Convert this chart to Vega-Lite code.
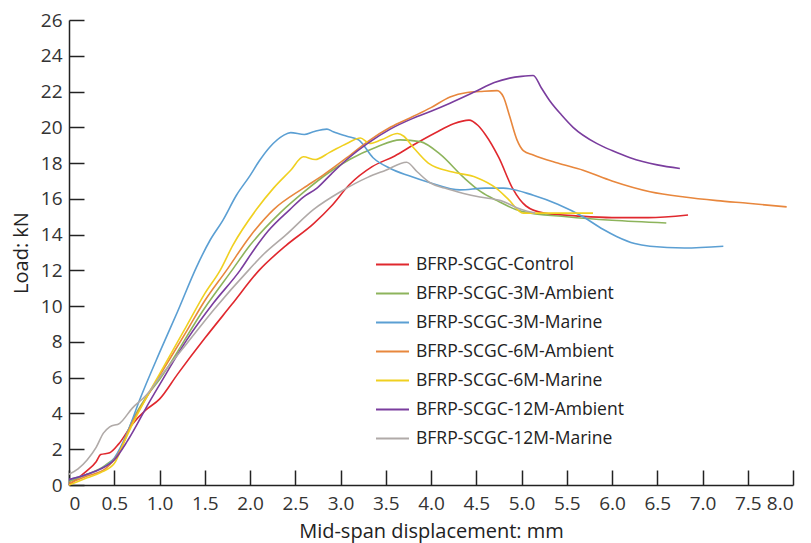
{
  "$schema": "https://vega.github.io/schema/vega-lite/v6.json",
  "width": 724,
  "height": 465,
  "autosize": "none",
  "padding": {"left": 69, "top": 20, "right": 18, "bottom": 58},
  "background": "white",
  "config": {"view": {"stroke": null}, "font": "Open Sans"},
  "datasets": {
    "curves": [
      {"s":"BFRP-SCGC-Control","x":0,"y":0},{"s":"BFRP-SCGC-Control","x":0.1,"y":0.4},{"s":"BFRP-SCGC-Control","x":0.2,"y":0.8},{"s":"BFRP-SCGC-Control","x":0.3,"y":1.3},{"s":"BFRP-SCGC-Control","x":0.35,"y":1.7},{"s":"BFRP-SCGC-Control","x":0.45,"y":1.8},{"s":"BFRP-SCGC-Control","x":0.55,"y":2.3},{"s":"BFRP-SCGC-Control","x":0.7,"y":3.4},{"s":"BFRP-SCGC-Control","x":0.85,"y":4.2},{"s":"BFRP-SCGC-Control","x":1.0,"y":4.8},{"s":"BFRP-SCGC-Control","x":1.2,"y":6.2},{"s":"BFRP-SCGC-Control","x":1.5,"y":8.2},{"s":"BFRP-SCGC-Control","x":1.8,"y":10.1},{"s":"BFRP-SCGC-Control","x":2.1,"y":12.0},{"s":"BFRP-SCGC-Control","x":2.4,"y":13.4},{"s":"BFRP-SCGC-Control","x":2.7,"y":14.6},{"s":"BFRP-SCGC-Control","x":2.9,"y":15.6},{"s":"BFRP-SCGC-Control","x":3.1,"y":16.8},{"s":"BFRP-SCGC-Control","x":3.35,"y":17.8},{"s":"BFRP-SCGC-Control","x":3.6,"y":18.4},{"s":"BFRP-SCGC-Control","x":3.8,"y":19.0},{"s":"BFRP-SCGC-Control","x":4.05,"y":19.7},{"s":"BFRP-SCGC-Control","x":4.25,"y":20.2},{"s":"BFRP-SCGC-Control","x":4.42,"y":20.4},{"s":"BFRP-SCGC-Control","x":4.52,"y":20.1},{"s":"BFRP-SCGC-Control","x":4.6,"y":19.6},{"s":"BFRP-SCGC-Control","x":4.75,"y":18.3},{"s":"BFRP-SCGC-Control","x":4.9,"y":16.6},{"s":"BFRP-SCGC-Control","x":5.05,"y":15.6},{"s":"BFRP-SCGC-Control","x":5.25,"y":15.2},{"s":"BFRP-SCGC-Control","x":5.6,"y":15.05},{"s":"BFRP-SCGC-Control","x":6.0,"y":14.95},{"s":"BFRP-SCGC-Control","x":6.4,"y":14.95},{"s":"BFRP-SCGC-Control","x":6.84,"y":15.1},

      {"s":"BFRP-SCGC-3M-Ambient","x":0,"y":0.2},{"s":"BFRP-SCGC-3M-Ambient","x":0.2,"y":0.6},{"s":"BFRP-SCGC-3M-Ambient","x":0.4,"y":1.1},{"s":"BFRP-SCGC-3M-Ambient","x":0.55,"y":1.8},{"s":"BFRP-SCGC-3M-Ambient","x":0.7,"y":3.6},{"s":"BFRP-SCGC-3M-Ambient","x":0.85,"y":4.9},{"s":"BFRP-SCGC-3M-Ambient","x":1.0,"y":5.9},{"s":"BFRP-SCGC-3M-Ambient","x":1.5,"y":9.9},{"s":"BFRP-SCGC-3M-Ambient","x":1.8,"y":12.0},{"s":"BFRP-SCGC-3M-Ambient","x":2.0,"y":13.4},{"s":"BFRP-SCGC-3M-Ambient","x":2.33,"y":15.2},{"s":"BFRP-SCGC-3M-Ambient","x":2.6,"y":16.4},{"s":"BFRP-SCGC-3M-Ambient","x":2.88,"y":17.5},{"s":"BFRP-SCGC-3M-Ambient","x":3.1,"y":18.2},{"s":"BFRP-SCGC-3M-Ambient","x":3.4,"y":18.9},{"s":"BFRP-SCGC-3M-Ambient","x":3.66,"y":19.3},{"s":"BFRP-SCGC-3M-Ambient","x":3.88,"y":19.2},{"s":"BFRP-SCGC-3M-Ambient","x":4.1,"y":18.5},{"s":"BFRP-SCGC-3M-Ambient","x":4.36,"y":17.2},{"s":"BFRP-SCGC-3M-Ambient","x":4.55,"y":16.4},{"s":"BFRP-SCGC-3M-Ambient","x":4.73,"y":15.9},{"s":"BFRP-SCGC-3M-Ambient","x":5.0,"y":15.3},{"s":"BFRP-SCGC-3M-Ambient","x":5.5,"y":15.0},{"s":"BFRP-SCGC-3M-Ambient","x":6.0,"y":14.8},{"s":"BFRP-SCGC-3M-Ambient","x":6.6,"y":14.65},

      {"s":"BFRP-SCGC-3M-Marine","x":0,"y":0.3},{"s":"BFRP-SCGC-3M-Marine","x":0.2,"y":0.6},{"s":"BFRP-SCGC-3M-Marine","x":0.35,"y":0.9},{"s":"BFRP-SCGC-3M-Marine","x":0.5,"y":1.5},{"s":"BFRP-SCGC-3M-Marine","x":0.65,"y":3.0},{"s":"BFRP-SCGC-3M-Marine","x":0.78,"y":4.75},{"s":"BFRP-SCGC-3M-Marine","x":1.0,"y":7.4},{"s":"BFRP-SCGC-3M-Marine","x":1.2,"y":9.7},{"s":"BFRP-SCGC-3M-Marine","x":1.41,"y":12.2},{"s":"BFRP-SCGC-3M-Marine","x":1.56,"y":13.7},{"s":"BFRP-SCGC-3M-Marine","x":1.7,"y":14.8},{"s":"BFRP-SCGC-3M-Marine","x":1.85,"y":16.2},{"s":"BFRP-SCGC-3M-Marine","x":2.0,"y":17.3},{"s":"BFRP-SCGC-3M-Marine","x":2.1,"y":18.1},{"s":"BFRP-SCGC-3M-Marine","x":2.22,"y":18.9},{"s":"BFRP-SCGC-3M-Marine","x":2.37,"y":19.55},{"s":"BFRP-SCGC-3M-Marine","x":2.45,"y":19.7},{"s":"BFRP-SCGC-3M-Marine","x":2.6,"y":19.6},{"s":"BFRP-SCGC-3M-Marine","x":2.7,"y":19.75},{"s":"BFRP-SCGC-3M-Marine","x":2.85,"y":19.9},{"s":"BFRP-SCGC-3M-Marine","x":2.92,"y":19.75},{"s":"BFRP-SCGC-3M-Marine","x":3.07,"y":19.5},{"s":"BFRP-SCGC-3M-Marine","x":3.2,"y":19.3},{"s":"BFRP-SCGC-3M-Marine","x":3.36,"y":18.3},{"s":"BFRP-SCGC-3M-Marine","x":3.55,"y":17.7},{"s":"BFRP-SCGC-3M-Marine","x":3.75,"y":17.3},{"s":"BFRP-SCGC-3M-Marine","x":3.99,"y":16.9},{"s":"BFRP-SCGC-3M-Marine","x":4.32,"y":16.5},{"s":"BFRP-SCGC-3M-Marine","x":4.6,"y":16.6},{"s":"BFRP-SCGC-3M-Marine","x":4.8,"y":16.6},{"s":"BFRP-SCGC-3M-Marine","x":5.13,"y":16.2},{"s":"BFRP-SCGC-3M-Marine","x":5.4,"y":15.7},{"s":"BFRP-SCGC-3M-Marine","x":5.68,"y":15.0},{"s":"BFRP-SCGC-3M-Marine","x":5.9,"y":14.3},{"s":"BFRP-SCGC-3M-Marine","x":6.05,"y":13.9},{"s":"BFRP-SCGC-3M-Marine","x":6.25,"y":13.5},{"s":"BFRP-SCGC-3M-Marine","x":6.42,"y":13.35},{"s":"BFRP-SCGC-3M-Marine","x":6.8,"y":13.25},{"s":"BFRP-SCGC-3M-Marine","x":7.23,"y":13.35},

      {"s":"BFRP-SCGC-6M-Ambient","x":0,"y":0.1},{"s":"BFRP-SCGC-6M-Ambient","x":0.2,"y":0.5},{"s":"BFRP-SCGC-6M-Ambient","x":0.4,"y":0.9},{"s":"BFRP-SCGC-6M-Ambient","x":0.55,"y":1.8},{"s":"BFRP-SCGC-6M-Ambient","x":0.7,"y":3.5},{"s":"BFRP-SCGC-6M-Ambient","x":0.84,"y":4.75},{"s":"BFRP-SCGC-6M-Ambient","x":1.0,"y":6.1},{"s":"BFRP-SCGC-6M-Ambient","x":1.3,"y":8.6},{"s":"BFRP-SCGC-6M-Ambient","x":1.5,"y":10.3},{"s":"BFRP-SCGC-6M-Ambient","x":1.74,"y":12.0},{"s":"BFRP-SCGC-6M-Ambient","x":2.0,"y":13.9},{"s":"BFRP-SCGC-6M-Ambient","x":2.26,"y":15.4},{"s":"BFRP-SCGC-6M-Ambient","x":2.59,"y":16.6},{"s":"BFRP-SCGC-6M-Ambient","x":2.8,"y":17.3},{"s":"BFRP-SCGC-6M-Ambient","x":3.07,"y":18.3},{"s":"BFRP-SCGC-6M-Ambient","x":3.3,"y":19.2},{"s":"BFRP-SCGC-6M-Ambient","x":3.55,"y":20.0},{"s":"BFRP-SCGC-6M-Ambient","x":3.8,"y":20.6},{"s":"BFRP-SCGC-6M-Ambient","x":4.0,"y":21.1},{"s":"BFRP-SCGC-6M-Ambient","x":4.21,"y":21.7},{"s":"BFRP-SCGC-6M-Ambient","x":4.4,"y":21.95},{"s":"BFRP-SCGC-6M-Ambient","x":4.54,"y":22.0},{"s":"BFRP-SCGC-6M-Ambient","x":4.73,"y":22.05},{"s":"BFRP-SCGC-6M-Ambient","x":4.8,"y":21.7},{"s":"BFRP-SCGC-6M-Ambient","x":4.87,"y":20.6},{"s":"BFRP-SCGC-6M-Ambient","x":4.95,"y":19.3},{"s":"BFRP-SCGC-6M-Ambient","x":5.02,"y":18.7},{"s":"BFRP-SCGC-6M-Ambient","x":5.13,"y":18.45},{"s":"BFRP-SCGC-6M-Ambient","x":5.4,"y":18.0},{"s":"BFRP-SCGC-6M-Ambient","x":5.68,"y":17.6},{"s":"BFRP-SCGC-6M-Ambient","x":6.0,"y":17.0},{"s":"BFRP-SCGC-6M-Ambient","x":6.42,"y":16.4},{"s":"BFRP-SCGC-6M-Ambient","x":6.8,"y":16.1},{"s":"BFRP-SCGC-6M-Ambient","x":7.16,"y":15.9},{"s":"BFRP-SCGC-6M-Ambient","x":7.5,"y":15.75},{"s":"BFRP-SCGC-6M-Ambient","x":7.93,"y":15.55},

      {"s":"BFRP-SCGC-6M-Marine","x":0,"y":0},{"s":"BFRP-SCGC-6M-Marine","x":0.2,"y":0.4},{"s":"BFRP-SCGC-6M-Marine","x":0.35,"y":0.7},{"s":"BFRP-SCGC-6M-Marine","x":0.5,"y":1.2},{"s":"BFRP-SCGC-6M-Marine","x":0.6,"y":2.3},{"s":"BFRP-SCGC-6M-Marine","x":0.72,"y":3.6},{"s":"BFRP-SCGC-6M-Marine","x":0.84,"y":4.75},{"s":"BFRP-SCGC-6M-Marine","x":1.0,"y":6.2},{"s":"BFRP-SCGC-6M-Marine","x":1.3,"y":8.9},{"s":"BFRP-SCGC-6M-Marine","x":1.5,"y":10.7},{"s":"BFRP-SCGC-6M-Marine","x":1.67,"y":12.0},{"s":"BFRP-SCGC-6M-Marine","x":1.81,"y":13.4},{"s":"BFRP-SCGC-6M-Marine","x":2.07,"y":15.4},{"s":"BFRP-SCGC-6M-Marine","x":2.26,"y":16.6},{"s":"BFRP-SCGC-6M-Marine","x":2.45,"y":17.6},{"s":"BFRP-SCGC-6M-Marine","x":2.59,"y":18.35},{"s":"BFRP-SCGC-6M-Marine","x":2.72,"y":18.2},{"s":"BFRP-SCGC-6M-Marine","x":2.88,"y":18.6},{"s":"BFRP-SCGC-6M-Marine","x":3.07,"y":19.1},{"s":"BFRP-SCGC-6M-Marine","x":3.22,"y":19.4},{"s":"BFRP-SCGC-6M-Marine","x":3.32,"y":19.1},{"s":"BFRP-SCGC-6M-Marine","x":3.45,"y":19.3},{"s":"BFRP-SCGC-6M-Marine","x":3.63,"y":19.65},{"s":"BFRP-SCGC-6M-Marine","x":3.7,"y":19.5},{"s":"BFRP-SCGC-6M-Marine","x":3.8,"y":18.9},{"s":"BFRP-SCGC-6M-Marine","x":3.97,"y":18.0},{"s":"BFRP-SCGC-6M-Marine","x":4.24,"y":17.5},{"s":"BFRP-SCGC-6M-Marine","x":4.5,"y":17.2},{"s":"BFRP-SCGC-6M-Marine","x":4.72,"y":16.6},{"s":"BFRP-SCGC-6M-Marine","x":4.85,"y":16.0},{"s":"BFRP-SCGC-6M-Marine","x":5.02,"y":15.2},{"s":"BFRP-SCGC-6M-Marine","x":5.3,"y":15.2},{"s":"BFRP-SCGC-6M-Marine","x":5.79,"y":15.2},

      {"s":"BFRP-SCGC-12M-Ambient","x":0,"y":0.3},{"s":"BFRP-SCGC-12M-Ambient","x":0.2,"y":0.6},{"s":"BFRP-SCGC-12M-Ambient","x":0.35,"y":0.9},{"s":"BFRP-SCGC-12M-Ambient","x":0.5,"y":1.4},{"s":"BFRP-SCGC-12M-Ambient","x":0.65,"y":2.5},{"s":"BFRP-SCGC-12M-Ambient","x":0.9,"y":4.75},{"s":"BFRP-SCGC-12M-Ambient","x":1.0,"y":5.6},{"s":"BFRP-SCGC-12M-Ambient","x":1.3,"y":8.1},{"s":"BFRP-SCGC-12M-Ambient","x":1.6,"y":10.2},{"s":"BFRP-SCGC-12M-Ambient","x":1.89,"y":12.0},{"s":"BFRP-SCGC-12M-Ambient","x":2.05,"y":13.2},{"s":"BFRP-SCGC-12M-Ambient","x":2.2,"y":14.2},{"s":"BFRP-SCGC-12M-Ambient","x":2.44,"y":15.4},{"s":"BFRP-SCGC-12M-Ambient","x":2.59,"y":16.1},{"s":"BFRP-SCGC-12M-Ambient","x":2.74,"y":16.6},{"s":"BFRP-SCGC-12M-Ambient","x":2.9,"y":17.4},{"s":"BFRP-SCGC-12M-Ambient","x":3.07,"y":18.2},{"s":"BFRP-SCGC-12M-Ambient","x":3.3,"y":19.1},{"s":"BFRP-SCGC-12M-Ambient","x":3.55,"y":19.9},{"s":"BFRP-SCGC-12M-Ambient","x":3.8,"y":20.5},{"s":"BFRP-SCGC-12M-Ambient","x":4.0,"y":20.9},{"s":"BFRP-SCGC-12M-Ambient","x":4.21,"y":21.35},{"s":"BFRP-SCGC-12M-Ambient","x":4.49,"y":22.0},{"s":"BFRP-SCGC-12M-Ambient","x":4.7,"y":22.5},{"s":"BFRP-SCGC-12M-Ambient","x":4.87,"y":22.75},{"s":"BFRP-SCGC-12M-Ambient","x":5.0,"y":22.85},{"s":"BFRP-SCGC-12M-Ambient","x":5.13,"y":22.9},{"s":"BFRP-SCGC-12M-Ambient","x":5.22,"y":22.2},{"s":"BFRP-SCGC-12M-Ambient","x":5.31,"y":21.5},{"s":"BFRP-SCGC-12M-Ambient","x":5.44,"y":20.7},{"s":"BFRP-SCGC-12M-Ambient","x":5.57,"y":20.0},{"s":"BFRP-SCGC-12M-Ambient","x":5.83,"y":19.1},{"s":"BFRP-SCGC-12M-Ambient","x":6.0,"y":18.7},{"s":"BFRP-SCGC-12M-Ambient","x":6.2,"y":18.3},{"s":"BFRP-SCGC-12M-Ambient","x":6.5,"y":17.9},{"s":"BFRP-SCGC-12M-Ambient","x":6.75,"y":17.7},

      {"s":"BFRP-SCGC-12M-Marine","x":0,"y":0.6},{"s":"BFRP-SCGC-12M-Marine","x":0.1,"y":0.9},{"s":"BFRP-SCGC-12M-Marine","x":0.2,"y":1.4},{"s":"BFRP-SCGC-12M-Marine","x":0.3,"y":2.1},{"s":"BFRP-SCGC-12M-Marine","x":0.38,"y":2.9},{"s":"BFRP-SCGC-12M-Marine","x":0.45,"y":3.25},{"s":"BFRP-SCGC-12M-Marine","x":0.56,"y":3.45},{"s":"BFRP-SCGC-12M-Marine","x":0.7,"y":4.3},{"s":"BFRP-SCGC-12M-Marine","x":0.85,"y":5.0},{"s":"BFRP-SCGC-12M-Marine","x":1.0,"y":6.0},{"s":"BFRP-SCGC-12M-Marine","x":1.3,"y":7.9},{"s":"BFRP-SCGC-12M-Marine","x":1.6,"y":9.8},{"s":"BFRP-SCGC-12M-Marine","x":2.0,"y":12.1},{"s":"BFRP-SCGC-12M-Marine","x":2.15,"y":12.9},{"s":"BFRP-SCGC-12M-Marine","x":2.4,"y":14.0},{"s":"BFRP-SCGC-12M-Marine","x":2.7,"y":15.4},{"s":"BFRP-SCGC-12M-Marine","x":3.0,"y":16.4},{"s":"BFRP-SCGC-12M-Marine","x":3.3,"y":17.2},{"s":"BFRP-SCGC-12M-Marine","x":3.5,"y":17.6},{"s":"BFRP-SCGC-12M-Marine","x":3.73,"y":18.05},{"s":"BFRP-SCGC-12M-Marine","x":3.85,"y":17.5},{"s":"BFRP-SCGC-12M-Marine","x":3.99,"y":16.9},{"s":"BFRP-SCGC-12M-Marine","x":4.15,"y":16.6},{"s":"BFRP-SCGC-12M-Marine","x":4.36,"y":16.3},{"s":"BFRP-SCGC-12M-Marine","x":4.54,"y":16.1},{"s":"BFRP-SCGC-12M-Marine","x":4.77,"y":15.9},{"s":"BFRP-SCGC-12M-Marine","x":5.0,"y":15.4},{"s":"BFRP-SCGC-12M-Marine","x":5.15,"y":15.2}
    ]
  },
  "data": {"name": "curves"},
  "mark": {"type": "line", "strokeWidth": 1.6, "interpolate": "monotone"},
  "encoding": {
    "x": {
      "field": "x", "type": "quantitative",
      "scale": {"domain": [0, 8], "nice": false, "zero": false},
      "axis": {
        "title": "Mid-span displacement: mm",
        "values": [0, 0.5, 1, 1.5, 2, 2.5, 3, 3.5, 4, 4.5, 5, 5.5, 6, 6.5, 7, 7.5, 8],
        "labelExpr": "datum.value == 0 ? '0' : format(datum.value, '.1f')",
        "grid": false, "domainColor": "#222", "domainWidth": 1.5,
        "tickColor": "#222", "tickWidth": 1.5, "tickSize": -15,
        "labelFontSize": 19, "labelColor": "#333", "labelPadding": 24, "labelFont": "Open Sans",
        "titleFontSize": 20, "titleColor": "#222", "titleFontWeight": "normal", "titlePadding": 8, "titleFont": "Open Sans"
      }
    },
    "y": {
      "field": "y", "type": "quantitative",
      "scale": {"domain": [0, 26], "nice": false},
      "axis": {
        "title": "Load: kN",
        "values": [0, 2, 4, 6, 8, 10, 12, 14, 16, 18, 20, 22, 24, 26],
        "grid": false, "domainColor": "#222", "domainWidth": 1.5,
        "tickColor": "#222", "tickWidth": 1.5, "tickSize": -15,
        "labelFontSize": 19, "labelColor": "#333", "labelPadding": 22, "labelFont": "Open Sans",
        "titleFontSize": 20, "titleColor": "#222", "titleFontWeight": "normal", "titlePadding": 9, "titleFont": "Open Sans"
      }
    },
    "color": {
      "field": "s", "type": "nominal",
      "scale": {
        "domain": ["BFRP-SCGC-Control", "BFRP-SCGC-3M-Ambient", "BFRP-SCGC-3M-Marine", "BFRP-SCGC-6M-Ambient", "BFRP-SCGC-6M-Marine", "BFRP-SCGC-12M-Ambient", "BFRP-SCGC-12M-Marine"],
        "range": ["#e0282e", "#8db45c", "#5b9fd3", "#e8873d", "#f0d020", "#7a3d9e", "#b0aaa8"]
      },
      "legend": {
        "title": null, "orient": "none", "legendX": 306, "legendY": 227,
        "symbolType": "stroke", "symbolSize": 1089, "symbolStrokeWidth": 2,
        "labelFontSize": 17.5, "labelFont": "Open Sans", "labelColor": "#222", "labelLimit": 400,
        "rowPadding": 3, "labelOffset": 6
      }
    }
  }
}
